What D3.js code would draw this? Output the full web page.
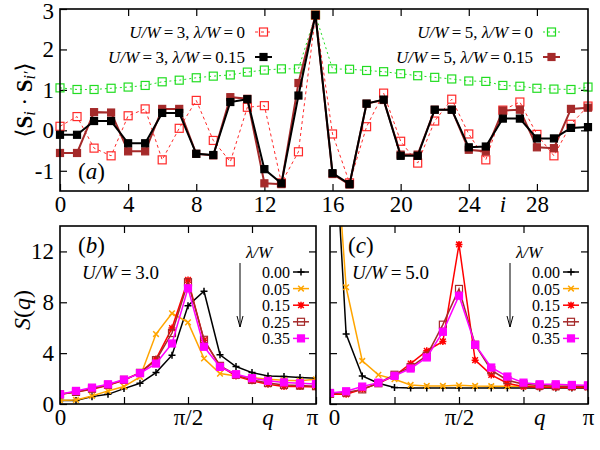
<!DOCTYPE html>
<html>
<head>
<meta charset="utf-8">
<script src="https://cdn.jsdelivr.net/npm/d3@7"></script>
<style>
body { margin: 0; background: #fff; }
svg text { font-family: "Liberation Serif", "Times New Roman", "DejaVu Serif", serif; }
</style>
</head>
<body>
<div id="chart"></div>
<script>
// ---- data: panel (a), correlation <S_i . S_i'> vs site i
var sites = [0,1,2,3,4,5,6,7,8,9,10,11,12,13,14,15,16,17,18,19,20,21,22,23,24,25,26,27,28,29,30,31];
var u3l0  = [0.10,0.34,-0.44,-0.63,0.36,0.53,-0.73,0.05,0.74,-0.25,-0.78,0.57,0.61,-1.30,-0.53,2.85,-0.09,-1.30,0.09,0.92,-0.27,-0.81,0.23,0.77,-0.09,-0.73,0.50,0.70,-0.10,-0.63,0.15,0.60];
var u3l15 = [-0.11,-0.11,0.23,0.23,-0.32,-0.32,0.43,0.43,-0.58,-0.61,0.70,0.77,-0.96,-1.31,0.86,2.85,-1.06,-1.33,0.66,0.76,-0.63,-0.63,0.51,0.51,-0.42,-0.40,0.29,0.29,-0.20,-0.20,0.06,0.08];
var u5l0  = [1.05,1.01,1.01,1.04,1.07,1.11,1.20,1.24,1.30,1.34,1.37,1.44,1.49,1.52,1.52,2.85,1.52,1.51,1.48,1.45,1.40,1.35,1.31,1.27,1.22,1.21,1.11,1.09,1.04,1.02,1.01,1.07];
var u5l15 = [-0.56,-0.56,0.45,0.44,-0.52,-0.52,0.53,0.53,-0.58,-0.62,0.82,0.78,-1.31,-1.33,1.17,2.85,-1.08,-1.34,0.66,0.75,-0.60,-0.60,0.51,0.51,-0.48,-0.52,0.49,0.51,-0.42,-0.44,0.53,0.56];

// ---- data: panels (b),(c), S(q) at q = k*pi/16
var qk = [0,1,2,3,4,5,6,7,8,9,10,11,12,13,14,15,16];
var lambdas = ["0.00","0.05","0.15","0.25","0.35"];
var sqU3 = [
  [0.28,0.28,0.58,0.76,1.21,1.63,2.47,3.84,7.73,8.87,3.87,2.95,2.47,2.21,2.17,2.08,2.03],
  [0.30,0.32,0.63,1.03,1.37,2.13,5.50,7.13,6.42,3.58,2.39,2.21,2.08,1.95,1.87,1.82,1.95],
  [0.76,0.95,1.16,1.47,1.87,2.47,3.53,5.97,9.76,5.02,3.00,2.20,1.82,1.55,1.37,1.37,1.34],
  [0.76,0.95,1.20,1.50,1.90,2.45,3.45,5.58,9.58,5.05,3.00,2.30,1.90,1.65,1.50,1.45,1.40],
  [0.76,1.03,1.29,1.55,1.92,2.42,3.18,4.76,9.10,4.50,2.92,2.34,2.03,1.82,1.70,1.63,1.58]
];
var sqU5 = [
  [28.0,5.50,2.21,1.63,1.29,1.26,1.25,1.25,1.25,1.26,1.25,1.25,1.25,1.25,1.25,1.25,1.25],
  [27.0,9.18,3.39,2.29,1.95,1.50,1.42,1.42,1.47,1.42,1.40,1.40,1.40,1.40,1.40,1.40,1.40],
  [0.76,0.76,1.16,1.63,2.21,3.18,4.18,4.92,12.55,3.45,2.29,1.63,1.37,1.32,1.30,1.30,1.30],
  [0.80,0.90,1.15,1.63,2.30,2.90,3.80,6.24,9.05,4.66,2.66,1.87,1.55,1.45,1.40,1.40,1.40],
  [0.87,1.00,1.37,1.68,2.21,2.79,3.66,5.68,8.52,4.66,2.87,2.16,1.68,1.55,1.55,1.50,1.47]
];
var sqColors = ["#000000","#ffa500","#ff0000","#a52a2a","#ff00ff"];
var sqMarks = ["plus","cross","star","square","fsquare"];

var FONT = '"Liberation Serif", "Times New Roman", "DejaVu Serif", serif';

var svg = d3.select("#chart").append("svg")
    .attr("width", 600)
    .attr("height", 450)
    .attr("font-family", FONT);

// marker drawing
function drawMarks(g, pts, type, color, s) {
    pts.forEach(function (p) {
        if (type == "square" || type == "fsquare") {
            g.append("rect")
                .attr("x", p[0] - s).attr("y", p[1] - s)
                .attr("width", 2 * s).attr("height", 2 * s)
                .attr("fill", type == "fsquare" ? color : "none")
                .attr("stroke", color).attr("stroke-width", 1.2);
        } else {
            var d = "";
            if (type == "plus" || type == "star") d += "M-" + s + ",0H" + s + "M0,-" + s + "V" + s;
            if (type == "cross" || type == "star") {
                var c = s * 0.8;
                d += "M-" + c + ",-" + c + "L" + c + "," + c + "M-" + c + "," + c + "L" + c + ",-" + c;
            }
            g.append("path").attr("d", d)
                .attr("transform", "translate(" + p[0] + "," + p[1] + ")")
                .attr("fill", "none").attr("stroke", color).attr("stroke-width", 1.5);
        }
    });
}

// text with italic variables
function mathText(g, x, y, parts, size, anchor) {
    var t = g.append("text")
        .attr("x", x).attr("y", y)
        .attr("font-size", size)
        .attr("text-anchor", anchor || "start")
        .attr("dominant-baseline", "central");
    parts.forEach(function (p) {
        t.append("tspan").text(p[0])
            .attr("font-style", p[1] ? "italic" : "normal");
    });
    return t;
}

function styleAxis(ax, size) {
    ax.attr("font-family", FONT);
    ax.select(".domain").remove();
    ax.selectAll("line").attr("stroke", "#000").attr("stroke-width", 1.2);
    ax.selectAll("text").attr("font-size", size).attr("fill", "#000");
}

function frame(g, x0, y0, w, h) {
    g.append("rect").attr("x", x0).attr("y", y0).attr("width", w).attr("height", h)
        .attr("fill", "none").attr("stroke", "#000").attr("stroke-width", 1.6);
}

// ================= panel (a)
var ax = d3.scaleLinear().domain([0, 31]).range([60, 588]);
var ay = d3.scaleLinear().domain([-1.5, 3]).range([191, 9]);
var ga = svg.append("g");

var aBot = ga.append("g").attr("transform", "translate(0,191)")
    .call(d3.axisBottom(ax).tickValues([0,4,8,12,16,20,24,28]).tickSize(-7).tickPadding(5).tickFormat(d3.format("d")));
styleAxis(aBot, 23);
aBot.append("text").attr("x", ax(26)).attr("y", 5).attr("dy", "0.71em")
    .attr("font-size", 23).attr("font-style", "italic").attr("fill", "#000").text("i");
var aTop = ga.append("g").attr("transform", "translate(0,9)")
    .call(d3.axisTop(ax).tickValues([4,8,12,16,20,24,28]).tickSize(-7).tickFormat(""));
styleAxis(aTop, 23);
var aLeft = ga.append("g").attr("transform", "translate(60,0)")
    .call(d3.axisLeft(ay).tickValues([-1,0,1,2,3]).tickSize(-7).tickPadding(6)
        .tickFormat(function (d) { return d < 0 ? "-" + (-d) : d; }));
styleAxis(aLeft, 23);
aLeft.selectAll(".tick text").filter(function (d) { return d == 3; }).attr("dy", "0.42em");
var aRight = ga.append("g").attr("transform", "translate(588,0)")
    .call(d3.axisRight(ay).tickValues([-1,0,1,2]).tickSize(-7).tickFormat(""));
styleAxis(aRight, 23);

var aSeries = [
    { v: u5l0,  color: "#22dd22", dash: "2,3", w: 1,   mark: "square",  s: 4 },
    { v: u3l0,  color: "#ff2a2a", dash: "3,3", w: 1,   mark: "square",  s: 4 },
    { v: u5l15, color: "#a52a2a", dash: null,  w: 2,   mark: "fsquare", s: 3.5 },
    { v: u3l15, color: "#000000", dash: null,  w: 2,   mark: "fsquare", s: 3.5 }
];
var aLine = d3.line().x(function (d, i) { return ax(sites[i]); }).y(function (d) { return ay(d); });
aSeries.forEach(function (s) {
    ga.append("path").datum(s.v).attr("d", aLine)
        .attr("fill", "none").attr("stroke", s.color).attr("stroke-width", s.w)
        .attr("stroke-dasharray", s.dash);
    drawMarks(ga, s.v.map(function (d, i) { return [ax(sites[i]), ay(d)]; }), s.mark, s.color, s.s);
});
frame(ga, 60, 9, 528, 182);

// legend (a)
var aLeg = [
    { x: 245, y: 32, t: [["U/W", 1], ["\u2009=\u20093, ", 0], ["λ/W", 1], ["\u2009=\u20090", 0]], s: aSeries[1] },
    { x: 245, y: 57, t: [["U/W", 1], ["\u2009=\u20093, ", 0], ["λ/W", 1], ["\u2009=\u20090.15", 0]], s: aSeries[3] },
    { x: 533, y: 32, t: [["U/W", 1], ["\u2009=\u20095, ", 0], ["λ/W", 1], ["\u2009=\u20090", 0]], s: aSeries[0] },
    { x: 533, y: 57, t: [["U/W", 1], ["\u2009=\u20095, ", 0], ["λ/W", 1], ["\u2009=\u20090.15", 0]], s: aSeries[2] }
];
aLeg.forEach(function (l) {
    mathText(ga, l.x, l.y, l.t, 17, "end");
    ga.append("line").attr("x1", l.x + 10).attr("x2", l.x + 27).attr("y1", l.y).attr("y2", l.y)
        .attr("stroke", l.s.color).attr("stroke-width", l.s.w).attr("stroke-dasharray", l.s.dash);
    drawMarks(ga, [[l.x + 18.5, l.y]], l.s.mark, l.s.color, l.s.s);
});
mathText(ga, 78, 171, [["(", 0], ["a", 1], [")", 0]], 23, "start");

// y label (a)
var yl = ga.append("text").attr("transform", "translate(24,100) rotate(-90)")
    .attr("text-anchor", "middle").attr("dominant-baseline", "central").attr("font-size", 23);
yl.append("tspan").text("⟨");
yl.append("tspan").text("S").attr("font-weight", "bold");
yl.append("tspan").text("i").attr("font-style", "italic").attr("font-size", 16).attr("dy", 5);
yl.append("tspan").text(" · ").attr("dy", -5);
yl.append("tspan").text("S").attr("font-weight", "bold");
yl.append("tspan").text("i′").attr("font-style", "italic").attr("font-size", 16).attr("dy", 5);
yl.append("tspan").text("⟩").attr("dy", -5);

// ================= panels (b), (c)
var sy = d3.scaleLinear().domain([0, 14]).range([404, 226]);
function sqPanel(x0, x1, data, label, uText, showY, legX) {
    var g = svg.append("g");
    var sx = d3.scaleLinear().domain([0, 16]).range([x0, x1]);
    var clipId = "clip" + label;
    g.append("clipPath").attr("id", clipId).append("rect")
        .attr("x", x0).attr("y", 226).attr("width", x1 - x0).attr("height", 178);

    var bot = g.append("g").attr("transform", "translate(0,404)")
        .call(d3.axisBottom(sx).tickValues([0,4,8,12,16]).tickSize(-7).tickPadding(5)
            .tickFormat(function (d) { return d == 0 ? "0" : d == 8 ? "π/2" : d == 16 ? "π" : ""; }));
    styleAxis(bot, 23);
    bot.selectAll("text").attr("dx", function (d) { return d == 16 && label == "b" ? -4 : d == 0 && label == "c" ? 4 : 0; });
    bot.append("text").attr("x", sx(13)).attr("y", 5).attr("dy", "0.71em")
        .attr("font-size", 23).attr("font-style", "italic").attr("fill", "#000").text("q");
    var top = g.append("g").attr("transform", "translate(0,226)")
        .call(d3.axisTop(sx).tickValues([4,8,12]).tickSize(-7).tickFormat(""));
    styleAxis(top, 23);
    var left = g.append("g").attr("transform", "translate(" + x0 + ",0)")
        .call(d3.axisLeft(sy).tickValues([0,4,8,12]).tickSize(-7).tickPadding(6)
            .tickFormat(showY ? d3.format("d") : ""));
    styleAxis(left, 23);
    var right = g.append("g").attr("transform", "translate(" + x1 + ",0)")
        .call(d3.axisRight(sy).tickValues([4,8,12]).tickSize(-7).tickFormat(""));
    styleAxis(right, 23);

    var line = d3.line().x(function (d, i) { return sx(qk[i]); }).y(function (d) { return sy(d); });
    var pg = g.append("g").attr("clip-path", "url(#" + clipId + ")");
    data.forEach(function (v, j) {
        pg.append("path").datum(v).attr("d", line)
            .attr("fill", "none").attr("stroke", sqColors[j]).attr("stroke-width", 1.5);
        drawMarks(pg, v.map(function (d, i) { return [sx(qk[i]), sy(d)]; }), sqMarks[j], sqColors[j], 3.5);
    });
    frame(g, x0, 226, x1 - x0, 178);

    mathText(g, x0 + 18, 245, [["(", 0], [label, 1], [")", 0]], 23, "start");
    mathText(g, x0 + 22, 272, [["U/W", 1], ["\u2009=\u2009" + uText, 0]], 19, "start");

    // legend
    mathText(g, legX - 31, 252, [["λ/W", 1]], 17, "middle");
    lambdas.forEach(function (lb, j) {
        var yy = 272 + j * 16.6;
        mathText(g, legX, yy, [[lb, 0]], 16, "end");
        g.append("line").attr("x1", legX + 3).attr("x2", legX + 19).attr("y1", yy).attr("y2", yy)
            .attr("stroke", sqColors[j]).attr("stroke-width", 1.5);
        drawMarks(g, [[legX + 11, yy]], sqMarks[j], sqColors[j], 3.5);
    });
    var axX = legX - 50;
    g.append("line").attr("x1", axX).attr("x2", axX).attr("y1", 263).attr("y2", 327)
        .attr("stroke", "#000").attr("stroke-width", 1);
    g.append("path").attr("d", "M" + (axX - 3) + ",316L" + axX + ",327L" + (axX + 3) + ",316")
        .attr("fill", "none").attr("stroke", "#000").attr("stroke-width", 1);
}
sqPanel(60, 316, sqU3, "b", "3.0", true, 290);
sqPanel(330, 588, sqU5, "c", "5.0", false, 560);

// y label (b,c)
var yl2 = svg.append("text").attr("transform", "translate(22,310) rotate(-90)")
    .attr("text-anchor", "middle").attr("dominant-baseline", "central").attr("font-size", 24);
yl2.append("tspan").text("S").attr("font-style", "italic");
yl2.append("tspan").text("(");
yl2.append("tspan").text("q").attr("font-style", "italic");
yl2.append("tspan").text(")");
</script>
</body>
</html>
